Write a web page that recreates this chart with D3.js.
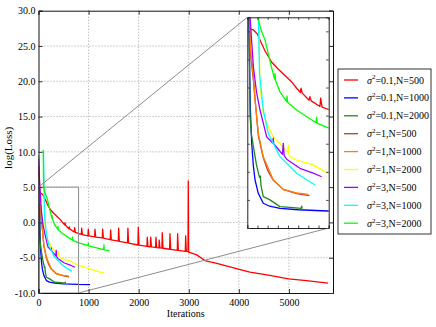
<!DOCTYPE html>
<html lang="en">
<head>
<meta charset="UTF-8">
<title>log(Loss) vs iterations</title>
<script src="https://cdn.jsdelivr.net/npm/d3@7"></script>
<style>
  body { margin: 0; background: #fff; }
  text { font-family: "Liberation Serif", "Times New Roman", serif; }
</style>
</head>
<body>
<script>
// series: [iteration, log(loss)]
const s01_500 = [[20,4.2],[60,4.1],[100,3.8],[130,3.3],[175,2.6],[240,1.8],[305,1.3],[370,0.85],[436,0.4],[485,-0.05],
  [522,-0.35],[528,-0.05],[540,-0.4],[608,-0.9],[615,-0.65],[628,-0.95],[714,-1.35],[721,-0.75],[735,-1.4],
  [855,-1.7],[862,-0.8],[876,-1.72],[987,-1.9],[994,-0.97],[1008,-1.92],[1121,-2.05],[1128,-0.97],[1142,-2.07],
  [1274,-2.2],[1281,-0.97],[1295,-2.22],[1433,-2.45],[1440,-1.05],[1454,-2.47],[1593,-2.65],[1600,-0.8],[1614,-2.67],
  [1778,-2.9],[1785,-0.8],[1799,-2.92],[1985,-3.2],[1992,-0.68],[2006,-3.22],[2165,-3.4],[2172,-2.1],[2186,-3.41],
  [2233,-3.45],[2240,-2.1],[2254,-3.46],[2338,-3.55],[2345,-2.1],[2359,-3.56],[2404,-3.6],[2411,-2.5],[2425,-3.61],
  [2464,-3.65],[2471,-1.45],[2485,-3.66],[2618,-3.8],[2625,-1.6],[2639,-3.81],[2771,-3.95],[2778,-1.6],[2792,-3.96],
  [2931,-4.1],[2938,-1.9],[2952,-4.11],[2985,-4.15],[2990,5.9],[2998,-4.2],
  [3160,-4.6],[3320,-5.4],[3560,-5.8],[3990,-6.6],[4220,-7.05],[4620,-7.5],[4990,-8.0],[5350,-8.25],[5780,-8.6]];
const s01_1000 = [[0,8.0],[10,5.5],[17,4.0],[30,-1.5],[43,-3.97],[60,-5.6],[76,-6.58],[108,-7.53],[157,-8.24],[220,-8.45],[321,-8.6],[500,-8.7],[790,-8.79],[1028,-8.8]];
const s01_2000 = [[0,9.5],[15,5.5],[20,3.0],[27,-2.07],[40,-3.3],[60,-4.2],[90,-5.5],[120,-6.4],[128,-6.3],[135,-7.0],[157,-7.77],[223,-8.0],[321,-8.48],[450,-8.55],[530,-8.6],[534,-8.45],[540,-8.6]];
const s1_500 = [[0,7.5],[20,5.0],[33,2.3],[60,0.5],[80,-1.1],[108,-3.4],[157,-5.0],[200,-5.9],[255,-6.6],[354,-7.25],[485,-7.55],[610,-7.7]];
const s1_1000 = [[0,8.0],[25,5.0],[33,2.67],[60,0.77],[76,-0.89],[108,-3.26],[157,-4.92],[255,-6.56],[354,-7.27],[485,-7.5],[599,-7.6]];
const s1_2000 = [[100,7.0],[115,4.0],[125,0.06],[157,-1.83],[190,-2.54],[255,-3.5],[321,-3.97],[387,-4.57],[398,-4.6],[403,-4.1],[410,-4.75],[419,-4.92],[485,-5.16],[648,-5.51],[780,-6.06],[1000,-6.5],[1150,-6.85],[1307,-7.2]];
const s3_500 = [[0,9.0],[20,6.0],[27,5.0],[60,1.48],[90,-0.3],[125,-1.6],[190,-3.5],[250,-3.95],[255,-3.6],[260,-4.0],[345,-4.75],[354,-3.97],[362,-4.85],[387,-5.1],[517,-5.75],[648,-6.1],[731,-6.35]];
const s3_1000 = [[100,10.0],[112,4.0],[120,1.0],[157,-1.6],[206,-3.26],[321,-4.92],[485,-6.1],[665,-6.94]];
const s3_2000 = [[95,10.3],[102,5.0],[140,4.0],[174,3.4],[206,2.4],[240,1.4],[268,0.6],[272,1.0],[278,0.5],[320,-0.3],[387,-1.0],[390,-0.6],[396,-1.05],
  [485,-1.6],[600,-2.15],[676,-2.5],[681,-2.1],[688,-2.55],[790,-2.85],[990,-3.3],[994,-2.95],[1000,-3.32],[1162,-3.6],[1300,-3.85],[1307,-3.2],[1312,-3.9],[1413,-4.0]];

const seriesData = [s01_500, s01_1000, s01_2000, s1_500, s1_1000, s1_2000, s3_500, s3_1000, s3_2000];
const sigmas = ["0.1", "0.1", "0.1", "1", "1", "1", "3", "3", "3"];
const sizes = ["500", "1000", "2000", "500", "1000", "2000", "500", "1000", "2000"];
const colors = ["#ff0000", "#0000ff", "#1f8a1f", "#c0392b", "#ff8000", "#ffff00", "#a000ff", "#00ffff", "#00ff00"];

const xTicks = [0, 1000, 2000, 3000, 4000, 5000];
const yTicks = [-10, -5, 0, 5, 10, 15, 20, 25, 30];
const zoomX = [0, 800];
const zoomY = [-10, 5];

const W = 436, H = 327;
const svg = d3.select("body").append("svg").attr("width", W).attr("height", H);

const x = d3.scaleLinear().domain([0, 5880]).range([38.5, 333]);
const y = d3.scaleLinear().domain([-10, 30]).range([293, 10.7]);

// inset scales
const xi = d3.scaleLinear().domain(zoomX).range([247.3, 328.7]);
const yi = d3.scaleLinear().domain(zoomY).range([228, 17.3]);

const defs = svg.append("defs");
defs.append("clipPath").attr("id", "clipMain").append("rect")
  .attr("x", x(0)).attr("y", y(30)).attr("width", x(5880) - x(0)).attr("height", y(-10) - y(30));
defs.append("clipPath").attr("id", "clipInset").append("rect")
  .attr("x", xi(0)).attr("y", yi(5)).attr("width", xi(800) - xi(0)).attr("height", yi(-10) - yi(5));

// grid
const grid = svg.append("g").attr("stroke", "#8a8a8a").attr("stroke-dasharray", "1,2").attr("stroke-width", 0.8);
grid.selectAll(".gx").data(xTicks.slice(1)).join("line")
  .attr("x1", d => x(d)).attr("x2", d => x(d)).attr("y1", y(30)).attr("y2", y(-10));
grid.selectAll(".gy").data(yTicks.slice(1, -1)).join("line")
  .attr("y1", d => y(d)).attr("y2", d => y(d)).attr("x1", x(0)).attr("x2", x(5880));

// main curves
const line = d3.line().x(d => x(d[0])).y(d => y(d[1]));
svg.append("g").attr("clip-path", "url(#clipMain)")
  .selectAll("path").data(seriesData).join("path")
  .attr("d", line).attr("fill", "none")
  .attr("stroke", (d, i) => colors[i]).attr("stroke-width", 1.3).attr("stroke-linejoin", "round");

// zoom rectangle and connectors
const zg = svg.append("g").attr("stroke", "#8c8c8c").attr("fill", "none").attr("stroke-width", 1);
zg.append("rect").attr("x", x(zoomX[0])).attr("y", y(zoomY[1]))
  .attr("width", x(zoomX[1]) - x(zoomX[0])).attr("height", y(zoomY[0]) - y(zoomY[1]));
zg.append("line").attr("x1", x(zoomX[0])).attr("y1", y(zoomY[1])).attr("x2", xi(0)).attr("y2", yi(5));
zg.append("line").attr("x1", x(zoomX[1])).attr("y1", y(zoomY[0])).attr("x2", xi(800)).attr("y2", yi(-10));

// inset
const ins = svg.append("g");
ins.append("rect").attr("x", xi(0)).attr("y", yi(5)).attr("width", xi(800) - xi(0)).attr("height", yi(-10) - yi(5))
  .attr("fill", "#fff");
const linei = d3.line().x(d => xi(d[0])).y(d => yi(d[1]));
ins.append("g").attr("clip-path", "url(#clipInset)")
  .selectAll("path").data(seriesData).join("path")
  .attr("d", linei).attr("fill", "none")
  .attr("stroke", (d, i) => colors[i]).attr("stroke-width", 1.3).attr("stroke-linejoin", "round");
const ixT = d3.range(0, 801, 100), iyT = d3.range(-10, 5, 2);
ins.append("g").attr("transform", `translate(0,${yi(-10)})`).call(d3.axisBottom(xi).tickValues(ixT).tickSize(-2.5).tickFormat(""));
ins.append("g").attr("transform", `translate(0,${yi(5)})`).call(d3.axisTop(xi).tickValues(ixT).tickSize(-2.5).tickFormat(""));
ins.append("g").attr("transform", `translate(${xi(0)},0)`).call(d3.axisLeft(yi).tickValues(iyT).tickSize(-2.5).tickFormat(""));
ins.append("g").attr("transform", `translate(${xi(800)},0)`).call(d3.axisRight(yi).tickValues(iyT).tickSize(-2.5).tickFormat(""));
ins.selectAll(".domain").attr("stroke", "#222");
ins.selectAll(".tick line").attr("stroke", "#444");

// main axes
const fs = "10px";
const ax = svg.append("g");
const gb = ax.append("g").attr("transform", `translate(0,${y(-10)})`)
  .call(d3.axisBottom(x).tickValues(xTicks).tickSize(-4).tickPadding(6).tickFormat(d => String(d)));
const gl = ax.append("g").attr("transform", `translate(${x(0)},0)`)
  .call(d3.axisLeft(y).tickValues(yTicks).tickSize(-4).tickPadding(3).tickFormat(d => d.toFixed(1)));
ax.append("g").attr("transform", `translate(0,${y(30)})`)
  .call(d3.axisTop(x).tickValues(xTicks).tickSize(-4).tickFormat(""));
ax.append("g").attr("transform", `translate(${x(5880)},0)`)
  .call(d3.axisRight(y).tickValues(yTicks).tickSize(-4).tickFormat(""));
ax.selectAll(".domain").attr("stroke", "#111");
ax.selectAll(".tick line").attr("stroke", "#333");
ax.selectAll("text").attr("font-family", "Liberation Serif, serif").attr("font-size", fs).attr("fill", "#000");

svg.append("text").attr("x", (x(0) + x(5880)) / 2).attr("y", 317).attr("text-anchor", "middle")
  .attr("font-size", fs).text("Iterations");
svg.append("text").attr("transform", `translate(12,${(y(30) + y(-10)) / 2 - 4}) rotate(-90)`)
  .attr("text-anchor", "middle").attr("font-size", "11px").text("log(Loss)");

// legend
const lg = svg.append("g");
lg.append("rect").attr("x", 338).attr("y", 69).attr("width", 93).attr("height", 165)
  .attr("fill", "#fff").attr("stroke", "#333").attr("stroke-width", 1);
const rows = lg.selectAll(".row").data(colors).join("g")
  .attr("transform", (d, i) => `translate(0,${80 + i * 17.9})`);
rows.append("line").attr("x1", 344).attr("x2", 358).attr("stroke", d => d).attr("stroke-width", 1.3);
const lt = rows.append("text").attr("x", 367).attr("dy", "0.35em").attr("font-size", "10px");
lt.append("tspan").attr("font-style", "italic").text("σ");
lt.append("tspan").attr("font-size", "7px").attr("dy", "-0.6em").text("2");
lt.append("tspan").attr("dy", "0.42em").text((d, i) => `=${sigmas[i]},N=${sizes[i]}`);
</script>
</body>
</html>
